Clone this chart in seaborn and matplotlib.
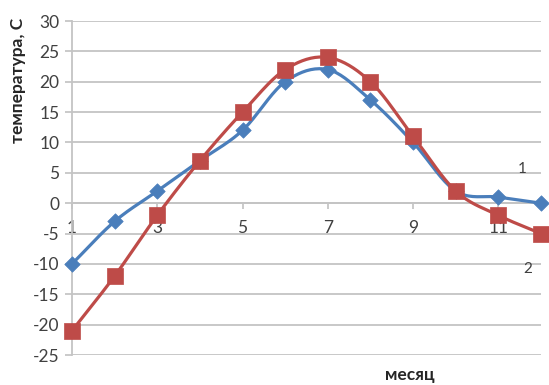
import numpy as np
import pandas as pd
import matplotlib
matplotlib.use("Agg")
import matplotlib.pyplot as plt
import seaborn as sns

# Monthly temperatures for two stations
months = [1, 2, 3, 4, 5, 6, 7, 8, 9, 10, 11, 12]
temp_1 = [-10, -3, 2, 7, 12, 20, 22, 17, 10, 2, 1, 0]
temp_2 = [-21, -12, -2, 7, 15, 22, 24, 20, 11, 2, -2, -5]
x_ticks = [1, 3, 5, 7, 9, 11]
y_ticks = [-25, -20, -15, -10, -5, 0, 5, 10, 15, 20, 25, 30]

BLUE = "#4A7EBB"
RED = "#BE4B48"

sns.set_theme(style="white")
plt.rcParams["font.family"] = ["Lato", "DejaVu Sans"]
plt.rcParams["axes.unicode_minus"] = False


def smooth(x, y, n=20):
    """Catmull-Rom style smoothing through every point, like spreadsheet smoothed lines."""
    x = np.asarray(x, float)
    y = np.asarray(y, float)
    px = np.concatenate([[2 * x[0] - x[1]], x, [2 * x[-1] - x[-2]]])
    py = np.concatenate([[2 * y[0] - y[1]], y, [2 * y[-1] - y[-2]]])
    xs, ys = [], []
    t = np.linspace(0, 1, n, endpoint=False)
    for i in range(1, len(px) - 2):
        p0, p1, p2, p3 = py[i - 1], py[i], py[i + 1], py[i + 2]
        q0, q1, q2, q3 = px[i - 1], px[i], px[i + 1], px[i + 2]
        ys.append(0.5 * (2 * p1 + (-p0 + p2) * t + (2 * p0 - 5 * p1 + 4 * p2 - p3) * t**2
                         + (-p0 + 3 * p1 - 3 * p2 + p3) * t**3))
        xs.append(0.5 * (2 * q1 + (-q0 + q2) * t + (2 * q0 - 5 * q1 + 4 * q2 - q3) * t**2
                         + (-q0 + 3 * q1 - 3 * q2 + q3) * t**3))
    xs.append([x[-1]])
    ys.append([y[-1]])
    return np.concatenate(xs), np.concatenate(ys)


fig = plt.figure(figsize=(5.49, 3.85), dpi=100)
ax = fig.add_axes([72 / 549, 1 - 355 / 385, (541 - 72) / 549, (355 - 21) / 385])

for vals, color, marker, size in [(temp_1, BLUE, "D", 62), (temp_2, RED, "s", 120)]:
    sx, sy = smooth(months, vals)
    curve = pd.DataFrame({"x": sx, "y": sy})
    sns.lineplot(data=curve, x="x", y="y", color=color, lw=2.3, sort=False, ax=ax,
                 estimator=None, zorder=3)
    pts = pd.DataFrame({"month": months, "temp": vals})
    sns.scatterplot(data=pts, x="month", y="temp", color=color, marker=marker, s=size,
                    edgecolor=color, linewidth=0.5, ax=ax, zorder=4, clip_on=False)

ax.set_xlim(1, 12)
ax.set_ylim(-25, 30)
ax.set_yticks(y_ticks)
ax.set_xticks(x_ticks)
ax.set_xticklabels([str(v) for v in x_ticks])

# horizontal gridlines
ax.yaxis.grid(True, color="#C4C4C4", lw=1.3)
ax.xaxis.grid(False)
ax.set_axisbelow(True)

for side in ["top", "right"]:
    ax.spines[side].set_visible(False)
ax.spines["left"].set_color("#C4C4C4")
ax.spines["left"].set_linewidth(1.3)
ax.spines["bottom"].set_position(("data", 0))
ax.spines["bottom"].set_color("#C4C4C4")
ax.spines["bottom"].set_linewidth(1.3)

ax.tick_params(axis="y", which="both", left=True, length=5, color="#C4C4C4",
               labelsize=12.5, labelcolor="#404040", pad=4)
ax.tick_params(axis="x", which="both", bottom=True, length=4, color="#C4C4C4",
               labelsize=12.5, labelcolor="#404040", pad=8)

ax.set_xlabel("")
ax.set_ylabel("")
fig.text(18 / 549, 1 - 80 / 385, "температура, С", rotation=90, ha="center", va="center",
         fontsize=12.5, fontweight="bold", color="#262626")
fig.text(410 / 549, 1 - 375 / 385, "месяц", ha="center", va="center",
         fontsize=12.5, fontweight="bold", color="#262626")

# series labels
ax.text(11.55, 5.6, "1", ha="center", va="center", fontsize=11, color="#404040")
ax.text(11.7, -10.9, "2", ha="center", va="center", fontsize=11, color="#404040")

fig.savefig("out.png", dpi=100)
